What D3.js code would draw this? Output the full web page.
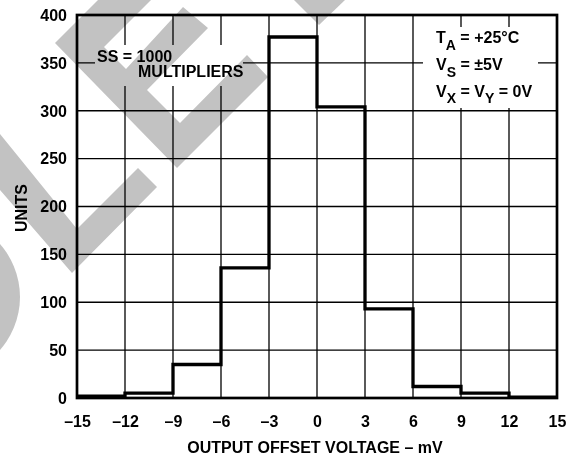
<!DOCTYPE html>
<html>
<head>
<meta charset="utf-8">
<script src="https://cdn.jsdelivr.net/npm/d3@7"></script>
<style>
  html, body { margin: 0; padding: 0; background: #fff; }
  svg { display: block; }
  text { font-family: "Liberation Sans", Arial, Helvetica, sans-serif; font-weight: bold; fill: #000; }
</style>
</head>
<body>
<svg id="chart" width="579" height="460"></svg>
<script>
// ---- data ----
const binEdges = [-15, -12, -9, -6, -3, 0, 3, 6, 9, 12, 15];
const binCounts = [2, 5, 35, 136, 377, 304, 93, 12, 5, 1];
const xTicks = [-15, -12, -9, -6, -3, 0, 3, 6, 9, 12, 15];
const yTicks = [0, 50, 100, 150, 200, 250, 300, 350, 400];
const xTitle = "OUTPUT OFFSET VOLTAGE – mV";
const yTitle = "UNITS";
const noteLeft = ["SS = 1000", "MULTIPLIERS"];
const noteRight = [
  [["T", ""], ["A", "sub"], [" = +25°C", ""]],
  [["V", ""], ["S", "sub"], [" = ±5V", ""]],
  [["V", ""], ["X", "sub"], [" = V", ""], ["Y", "sub"], [" = 0V", ""]]
];

// decorative watermark outlines (not data)
const watermarkPolys = [
  [[55,43],[177,168],[268,77],[247,55],[180,123],[147,90],[208,28],[183,7],[126,69],[104,47],[160,-9],[107,-9]],
  [[0,134],[13,150],[77,229],[138,168],[157,187],[72,273],[0,190]],
  [[294,0],[345,0],[319,25]]
];

const svg = d3.select("#chart");
const L = 77, R = 557, T = 15, B = 398;
const FS = "16px";
const x = d3.scaleLinear().domain([-15, 15]).range([L, R]);
const y = d3.scaleLinear().domain([0, 400]).range([B, T]);
const fmt = d => d < 0 ? "–" + Math.abs(d) : String(d);

// grid
const grid = svg.append("g").attr("stroke", "#000").attr("stroke-width", 1.3);
grid.selectAll("line.v").data(xTicks.slice(1, -1)).join("line")
  .attr("x1", d => x(d)).attr("x2", d => x(d)).attr("y1", T).attr("y2", B);
grid.selectAll("line.h").data(yTicks.slice(1, -1)).join("line")
  .attr("y1", d => y(d)).attr("y2", d => y(d)).attr("x1", L).attr("x2", R);

// white gaps behind annotations
svg.append("rect").attr("x", 95).attr("y", 45).attr("width", 148).attr("height", 41).attr("fill", "#fff");
svg.append("rect").attr("x", 423).attr("y", 27).attr("width", 115).attr("height", 81).attr("fill", "#fff");

// frame
svg.append("rect").attr("x", L).attr("y", T).attr("width", R - L).attr("height", B - T)
  .attr("fill", "none").attr("stroke", "#000").attr("stroke-width", 2.7);

// histogram step line
const pts = binCounts.map((c, i) => [binEdges[i], c]);
pts.push([binEdges[binEdges.length - 1], binCounts[binCounts.length - 1]]);
const line = d3.line().x(d => x(d[0])).y(d => y(d[1])).curve(d3.curveStepAfter);
svg.append("path").datum(pts).attr("d", line)
  .attr("fill", "none").attr("stroke", "#000").attr("stroke-width", 3.3)
  .attr("stroke-linejoin", "miter");

// axes (labels only)
const xAxis = d3.axisBottom(x).tickValues(xTicks).tickFormat(fmt).tickSize(0).tickPadding(0);
const gx = svg.append("g").attr("transform", `translate(0,${B})`).call(xAxis);
gx.select(".domain").remove();
gx.selectAll("text").attr("dy", null).attr("y", 28.8).style("font-size", FS)
  .style("font-family", "'Liberation Sans', Arial, sans-serif").style("font-weight", "bold");

const yAxis = d3.axisLeft(y).tickValues(yTicks).tickFormat(fmt).tickSize(0).tickPadding(0);
const gy = svg.append("g").attr("transform", `translate(67,0)`).call(yAxis);
gy.select(".domain").remove();
gy.selectAll("text").attr("x", 0).attr("dy", "0.33em").style("font-size", FS)
  .style("font-family", "'Liberation Sans', Arial, sans-serif").style("font-weight", "bold");

// titles
svg.append("text").attr("x", 315).attr("y", 452.8).attr("text-anchor", "middle")
  .style("font-size", FS).text(xTitle);
svg.append("text").attr("transform", "translate(27,208) rotate(-90)").attr("text-anchor", "middle")
  .style("font-size", FS).text(yTitle);

// annotations
svg.append("text").attr("x", 97).attr("y", 61.5).style("font-size", FS).text(noteLeft[0]);
svg.append("text").attr("x", 138).attr("y", 77.3).style("font-size", FS).text(noteLeft[1]);

noteRight.forEach((parts, i) => {
  const t = svg.append("text").attr("x", 436).attr("y", 43.3 + i * 26.7).style("font-size", FS);
  parts.forEach(([s, kind]) => {
    if (kind === "sub") {
      t.append("tspan").attr("dy", 6.5).style("font-size", "14px").text(s);
    } else {
      const ts = t.append("tspan").text(s);
      if (t.selectAll("tspan").size() > 1) ts.attr("dy", -6.5);
    }
  });
});

// watermark (multiply so black stays black)
svg.append("g").style("mix-blend-mode", "multiply")
  .selectAll("path").data(watermarkPolys).join("path")
  .attr("d", d => "M" + d.join("L") + "Z").attr("fill", "#c2c2c2");
svg.append("circle").attr("cx", -60).attr("cy", 297).attr("r", 80)
  .attr("fill", "#c2c2c2").style("mix-blend-mode", "multiply");
</script>
</body>
</html>
